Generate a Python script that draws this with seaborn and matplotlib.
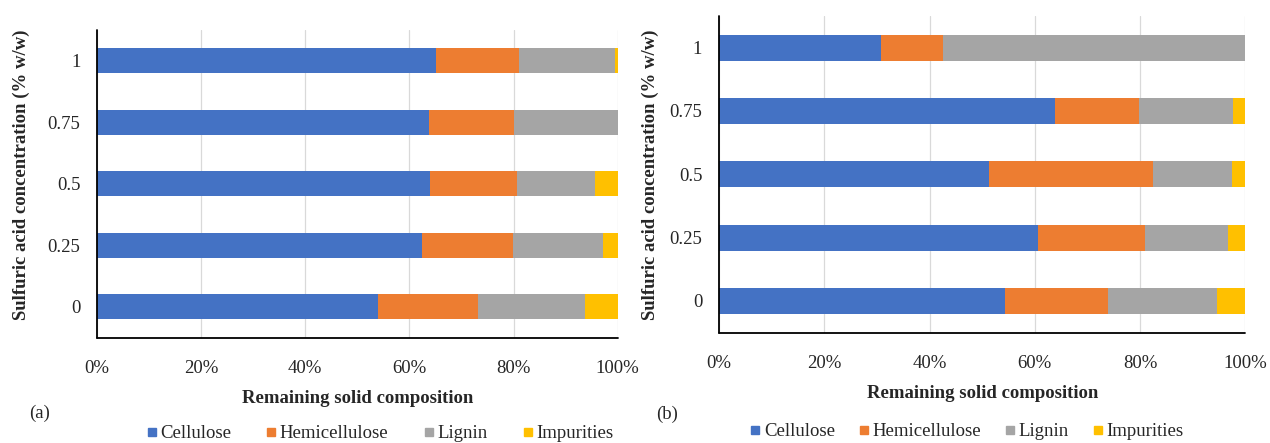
import pandas as pd
import numpy as np
import matplotlib.pyplot as plt
import seaborn as sns
from matplotlib.lines import Line2D

# Sulfuric acid concentration (% w/w), top of chart first
conc = ["1", "0.75", "0.5", "0.25", "0"]
components = ["Cellulose", "Hemicellulose", "Lignin", "Impurities"]
colors = ["#4472C4", "#ED7D31", "#A5A5A5", "#FFC000"]

# panel (a) composition, %
a_cellulose = [65.1, 63.7, 63.9, 62.5, 54.0]
a_hemicellulose = [16.0, 16.3, 16.8, 17.3, 19.1]
a_lignin = [18.3, 20.0, 15.0, 17.4, 20.6]
a_impurities = [0.6, 0.0, 4.3, 2.8, 6.3]

# panel (b) composition, %
b_cellulose = [30.7, 63.9, 51.3, 60.6, 54.3]
b_hemicellulose = [11.9, 15.9, 31.2, 20.3, 19.6]
b_lignin = [57.4, 17.8, 14.9, 15.8, 20.7]
b_impurities = [0.0, 2.4, 2.6, 3.3, 5.4]

sns.set_style("white")
plt.rcParams['font.family'] = ['Liberation Serif', 'DejaVu Serif']

fig = plt.figure(figsize=(12.7, 4.43), dpi=100)
ax_a = fig.add_axes([0.0764, 0.2381, 0.4100, 0.6942])
ax_b = fig.add_axes([0.5661, 0.2494, 0.4146, 0.7145])


def draw_panel(ax, parts):
    df = pd.DataFrame(dict(zip(components, parts)), index=conc)
    cum = df.cumsum(axis=1)
    cum['Concentration'] = conc
    # draw cumulative totals from the widest to the narrowest so they stack
    for comp, col in reversed(list(zip(components, colors))):
        sns.barplot(data=cum, x=comp, y='Concentration', order=conc,
                    orient='h', color=col, width=0.41, linewidth=0,
                    saturation=1, ax=ax)
    ax.set_xlim(0, 100)
    ax.set_ylim(4.5, -0.5)
    ax.set_xticks(np.arange(0, 101, 20))
    ax.set_xticklabels([f"{t}%" for t in range(0, 101, 20)])
    ax.xaxis.grid(True, color='#D9D9D9', linewidth=0.9)
    ax.set_axisbelow(True)
    ax.tick_params(axis='both', length=0, labelsize=13.5)
    ax.tick_params(axis='y', pad=12)
    ax.tick_params(axis='x', pad=16)
    for s in ['top', 'right']:
        ax.spines[s].set_visible(False)
    ax.set_xlabel('Remaining solid composition', fontsize=13.5, fontweight='bold')
    ax.set_ylabel('Sulfuric acid concentration (% w/w)', fontsize=13.5, fontweight='bold')
    # axis lines drawn explicitly in axes coordinates
    ax.axvline(0, color='black', linewidth=1.3, zorder=5, clip_on=False)
    ax.axhline(4.5, color='black', linewidth=1.3, zorder=5, clip_on=False)
    ax.spines['left'].set_visible(False)
    ax.spines['bottom'].set_visible(False)


draw_panel(ax_a, [a_cellulose, a_hemicellulose, a_lignin, a_impurities])
draw_panel(ax_b, [b_cellulose, b_hemicellulose, b_lignin, b_impurities])

ax_a.xaxis.set_label_coords(0.5, -0.172)
ax_a.yaxis.set_label_coords(-0.129, 0.53)
ax_b.xaxis.set_label_coords(0.5, -0.167)
ax_b.yaxis.set_label_coords(-0.114, 0.5)

handles = [Line2D([], [], marker='s', linestyle='', color=c, markersize=5.5)
           for c in colors]
fig.legend(handles, components, loc='center', bbox_to_anchor=(0.299, 0.021),
           ncol=4, frameon=False, fontsize=13.5, handlelength=0.6,
           handletextpad=0.15, columnspacing=1.85, borderpad=0)
fig.legend(handles, components, loc='center', bbox_to_anchor=(0.761, 0.025),
           ncol=4, frameon=False, fontsize=13.5, handlelength=0.6,
           handletextpad=0.15, columnspacing=1.25, borderpad=0)

fig.text(40 / 1270, 1 - 413 / 443, '(a)', fontsize=13.5, ha='center', va='center')
fig.text(667 / 1270, 1 - 414 / 443, '(b)', fontsize=13.5, ha='center', va='center')

fig.savefig('out.png', dpi=100)
